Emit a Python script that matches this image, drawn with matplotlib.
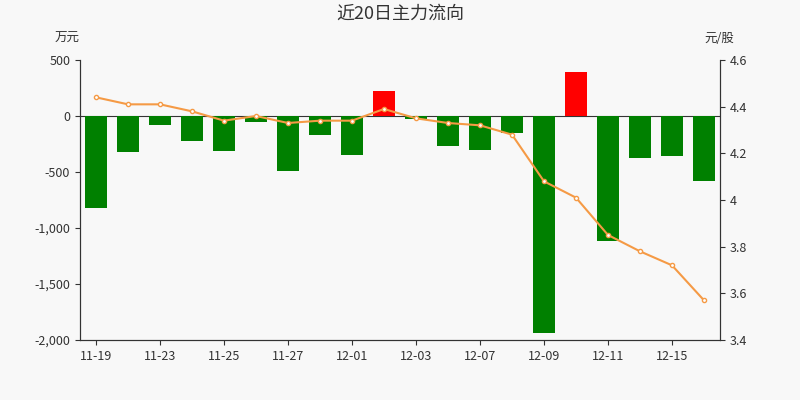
import matplotlib
matplotlib.use("Agg")
import matplotlib.pyplot as plt

plt.rcParams['font.family'] = ['Noto Sans CJK SC', 'DejaVu Sans']

dates = ["11-19","11-20","11-23","11-24","11-25","11-26","11-27","11-30","12-01","12-02",
         "12-03","12-04","12-07","12-08","12-09","12-10","12-11","12-14","12-15","12-16"]
flow = [-821,-321,-80,-223,-312,-54,-491,-170,-348,223,
        -27,-268,-304,-152,-1938,393,-1116,-375,-357,-580]
price = [4.44,4.41,4.41,4.38,4.34,4.36,4.33,4.34,4.34,4.39,
         4.35,4.33,4.32,4.28,4.08,4.01,3.85,3.78,3.72,3.57]

bg = "#f8f8f8"
fig = plt.figure(figsize=(8, 4), dpi=100, facecolor=bg)
ax = fig.add_axes([0.1, 0.15, 0.8, 0.7], facecolor=bg)
x = list(range(len(dates)))
colors = ["#ff0000" if v > 0 else "#008000" for v in flow]
ax.bar(x, flow, width=0.7, color=colors, zorder=2)
ax.axhline(0, color="#333333", lw=0.8, zorder=1)
ax.set_ylim(-2000, 500)
ax.set_yticks([-2000, -1500, -1000, -500, 0, 500])
ax.set_yticklabels(["-2,000", "-1,500", "-1,000", "-500", "0", "500"])
ax.set_xlim(-0.5, len(dates) - 0.5)
ax.set_xticks(x[::2])
ax.set_xticklabels(dates[::2])
for s in ["top"]:
    ax.spines[s].set_visible(False)
for s in ["left", "right", "bottom"]:
    ax.spines[s].set_color("#333333")
ax.tick_params(colors="#333333", labelsize=9)

ax2 = ax.twinx()
ax2.plot(x, price, color="#f59a45", lw=1.5, marker="o", markersize=3,
         markerfacecolor="white", markeredgecolor="#f59a45", zorder=3)
ax2.set_ylim(3.4, 4.6)
ax2.set_yticks([3.4, 3.6, 3.8, 4.0, 4.2, 4.4, 4.6])
ax2.set_yticklabels(["3.4", "3.6", "3.8", "4", "4.2", "4.4", "4.6"])
ax2.spines["top"].set_visible(False)
for s in ["left", "right", "bottom"]:
    ax2.spines[s].set_color("#333333")
ax2.tick_params(colors="#333333", labelsize=9)

fig.text(0.5, 0.965, "近20日主力流向", ha="center", va="center", fontsize=13, color="#333333")
fig.text(0.1, 0.903, "万元", ha="right", va="center", fontsize=9, color="#333333")
fig.text(0.918, 0.903, "元/股", ha="right", va="center", fontsize=9, color="#333333")

fig.savefig("out.png", dpi=100, facecolor=bg)
